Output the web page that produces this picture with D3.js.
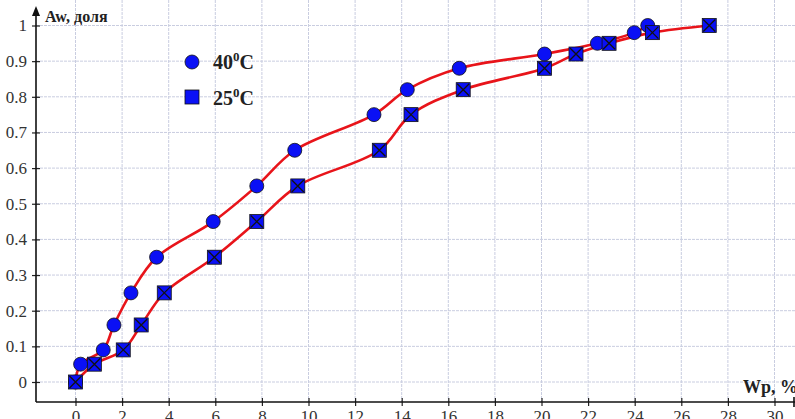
<!DOCTYPE html>
<html>
<head>
<meta charset="utf-8">
<script src="https://cdn.jsdelivr.net/npm/d3@7"></script>
<style>
  body { margin: 0; background: #fff; }
  svg { display: block; }
  .axis text { font-family: "Liberation Serif", "Times New Roman", serif; font-size: 17px; fill: #333; }
</style>
</head>
<body>
<div class="chart"></div>
<script>
// données
const xTicks = [0, 2, 4, 6, 8, 10, 12, 14, 16, 18, 20, 22, 24, 26, 28, 30];
const yTicks = [0, 0.1, 0.2, 0.3, 0.4, 0.5, 0.6, 0.7, 0.8, 0.9, 1];

const wp40 = [0, 0.22, 1.19, 1.65, 2.38, 3.48, 5.91, 7.78, 9.41, 12.81, 14.24, 16.47, 20.13, 22.4, 23.98, 24.56];
const aw40 = [0, 0.05, 0.09, 0.16, 0.25, 0.35, 0.45, 0.55, 0.65, 0.75, 0.82, 0.88, 0.92, 0.95, 0.98, 1.0];

const wp25 = [0, 0.81, 2.05, 2.82, 3.81, 5.96, 7.78, 9.54, 13.04, 14.4, 16.64, 20.13, 21.48, 22.9, 24.76, 27.2];
const aw25 = [0, 0.05, 0.09, 0.16, 0.25, 0.35, 0.45, 0.55, 0.65, 0.75, 0.82, 0.88, 0.92, 0.95, 0.98, 1.0];

const width = 795;
const height = 419;
const axisX = 36;    // position de l'axe vertical
const axisY = 402;   // position de l'axe horizontal

const serif = '"Liberation Serif", "Times New Roman", serif';
const blue = '#0a10f5';
const red = '#e8141a';

const svg = d3.select('.chart')
  .append('svg')
  .attr('width', width)
  .attr('height', height)
  .style('font-family', serif);

const x = d3.scaleLinear().domain([0, 30]).range([75.5, 774.5]);
const y = d3.scaleLinear().domain([0, 1]).range([382, 25.5]);

// grille
const grid = svg.append('g')
  .attr('stroke', '#c9cde0')
  .attr('stroke-width', 1)
  .attr('stroke-dasharray', '3,1');

grid.selectAll('.v')
  .data(xTicks)
  .join('line')
    .attr('x1', d => x(d)).attr('x2', d => x(d))
    .attr('y1', 0).attr('y2', axisY);

grid.selectAll('.h')
  .data(yTicks)
  .join('line')
    .attr('x1', axisX).attr('x2', width)
    .attr('y1', d => y(d)).attr('y2', d => y(d));

// axes
const gx = svg.append('g')
  .attr('class', 'axis')
  .attr('transform', `translate(0, ${axisY})`)
  .call(d3.axisBottom(x).tickValues(xTicks).tickSize(4).tickPadding(4).tickFormat(d3.format('d')))
  .call(g => g.select('.domain').remove())
  .attr('font-family', serif)
  .attr('font-size', 17);

gx.selectAll('.tick line').attr('y1', -4).attr('stroke', '#222').attr('stroke-width', 1.2);

const gy = svg.append('g')
  .attr('class', 'axis')
  .attr('transform', `translate(${axisX}, 0)`)
  .call(d3.axisLeft(y).tickValues(yTicks).tickSize(4).tickPadding(5).tickFormat(d => d === 0 || d === 1 ? d : d3.format('.1f')(d)))
  .call(g => g.select('.domain').remove())
  .attr('font-family', serif)
  .attr('font-size', 17);

gy.selectAll('.tick line').attr('x1', 4).attr('stroke', '#222').attr('stroke-width', 1.2);

svg.append('line')
  .attr('x1', axisX).attr('x2', width)
  .attr('y1', axisY).attr('y2', axisY)
  .attr('stroke', '#111').attr('stroke-width', 1.6);

svg.append('line')
  .attr('x1', axisX).attr('x2', axisX)
  .attr('y1', axisY).attr('y2', 12)
  .attr('stroke', '#111').attr('stroke-width', 1.6);

svg.append('path')
  .attr('d', `M${axisX},6 L${axisX - 4},16 L${axisX + 4},16 Z`)
  .attr('fill', '#111');

svg.append('line')
  .attr('x1', 794).attr('x2', 794)
  .attr('y1', axisY - 5).attr('y2', axisY + 5)
  .attr('stroke', '#111').attr('stroke-width', 1.6);

// titres des axes
svg.append('text')
  .attr('x', 45).attr('y', 22)
  .style('font-family', serif).style('font-weight', 'bold').style('font-size', '16px')
  .attr('fill', '#222')
  .text('Aw, доля');

svg.append('text')
  .attr('x', 743).attr('y', 393)
  .style('font-family', serif).style('font-weight', 'bold').style('font-size', '18px')
  .attr('fill', '#222')
  .text('Wp, %');

// courbes
const line = d3.line()
  .x(d => x(d[0]))
  .y(d => y(d[1]))
  .curve(d3.curveCatmullRom.alpha(0.5));

const pts40 = wp40.map((d, i) => [d, aw40[i]]);
const pts25 = wp25.map((d, i) => [d, aw25[i]]);

svg.append('path')
  .attr('d', line(pts40))
  .attr('fill', 'none').attr('stroke', red).attr('stroke-width', 2.6);

svg.append('path')
  .attr('d', line(pts25))
  .attr('fill', 'none').attr('stroke', red).attr('stroke-width', 2.6);

// marqueurs 40°C
svg.append('g')
  .selectAll('circle')
  .data(pts40)
  .join('circle')
    .attr('cx', d => x(d[0]))
    .attr('cy', d => y(d[1]))
    .attr('r', 7)
    .attr('fill', blue)
    .attr('stroke', '#111')
    .attr('stroke-width', 0.8);

// marqueurs 25°C
const sq = svg.append('g')
  .selectAll('g')
  .data(pts25)
  .join('g')
    .attr('transform', d => `translate(${x(d[0])}, ${y(d[1])})`);

sq.append('rect')
  .attr('x', -7).attr('y', -7)
  .attr('width', 14).attr('height', 14)
  .attr('fill', blue)
  .attr('stroke', '#111')
  .attr('stroke-width', 0.8);

sq.append('path')
  .attr('d', 'M-6,-6 L6,6 M-6,6 L6,-6')
  .attr('stroke', '#111')
  .attr('stroke-width', 1.3);

// légende
const legend = svg.append('g')
  .style('font-family', serif).style('font-weight', 'bold').style('font-size', '20px')
  .attr('fill', '#222');

legend.append('circle')
  .attr('cx', 192).attr('cy', 62).attr('r', 7)
  .attr('fill', blue).attr('stroke', '#111').attr('stroke-width', 0.8);

legend.append('rect')
  .attr('x', 185).attr('y', 90).attr('width', 14).attr('height', 14)
  .attr('fill', blue).attr('stroke', '#111').attr('stroke-width', 0.8);

[['40', 69], ['25', 105]].forEach(([t, yy]) => {
  const txt = legend.append('text').attr('x', 213).attr('y', yy);
  txt.append('tspan').text(t);
  txt.append('tspan').attr('dy', -8).style('font-size', '13px').text('0');
  txt.append('tspan').attr('dy', 8).text('C');
});
</script>
</body>
</html>
